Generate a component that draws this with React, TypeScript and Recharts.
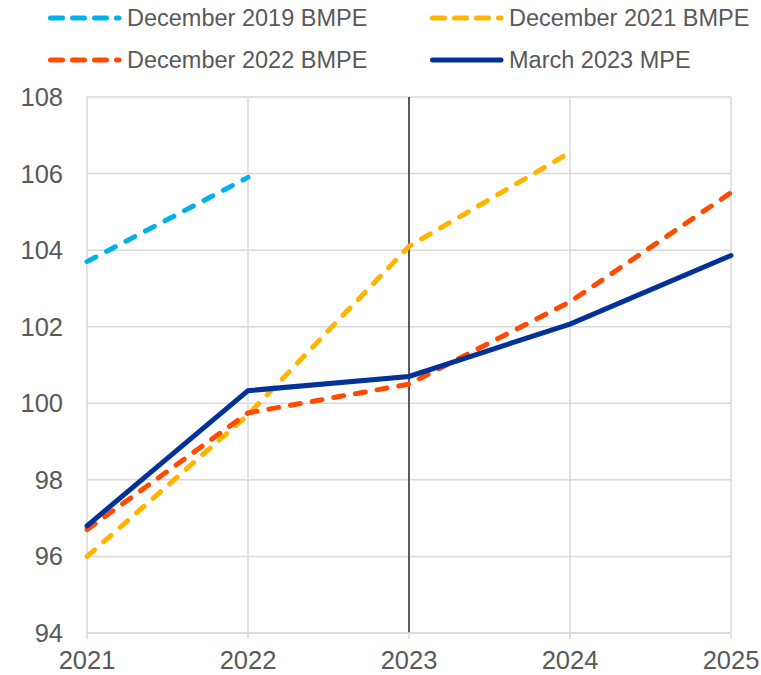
import { LineChart, Line, XAxis, YAxis, CartesianGrid, ReferenceLine } from 'recharts'

const years = ['2021', '2022', '2023', '2024', '2025']
const dec2019 = [103.7, 105.9, null, null, null]
const dec2021 = [96.0, 99.7, 104.1, 106.55, null]
const dec2022 = [96.7, 99.75, 100.5, 102.65, 105.5]
const mar2023 = [96.8, 100.33, 100.7, 102.07, 103.86]
const yTicks = [94, 96, 98, 100, 102, 104, 106, 108]

const chartData = years.map((year, i) => ({
  year,
  dec2019: dec2019[i],
  dec2021: dec2021[i],
  dec2022: dec2022[i],
  mar2023: mar2023[i],
}))

const FONT = '"Liberation Sans", Arial, sans-serif'
const TEXT = '#595959'
const DASH = '10 12'

const legendItems = [
  { label: 'December 2019 BMPE', color: '#00B1EA', dashed: true, x: 46, y: 18 },
  { label: 'December 2021 BMPE', color: '#FFB400', dashed: true, x: 428, y: 18 },
  { label: 'December 2022 BMPE', color: '#FF4B00', dashed: true, x: 46, y: 60 },
  { label: 'March 2023 MPE', color: '#003299', dashed: false, x: 428, y: 60 },
]

const ChartLegend = () => (
  <>
    {legendItems.map((item) => (
      <div
        key={item.label}
        style={{
          position: 'absolute',
          left: item.x,
          top: item.y - 15,
          height: 30,
          display: 'flex',
          alignItems: 'center',
          fontFamily: FONT,
          fontSize: 23.5,
          color: TEXT,
          whiteSpace: 'nowrap',
        }}
      >
        <svg width={80} height={10} style={{ marginRight: 1 }}>
          <line
            x1={4.5}
            y1={5}
            x2={73}
            y2={5}
            stroke={item.color}
            strokeWidth={5}
            strokeLinecap="round"
            strokeDasharray={item.dashed ? '12 10' : undefined}
          />
        </svg>
        {item.label}
      </div>
    ))}
  </>
)

export default function App() {
  return (
    <div style={{ position: 'absolute', left: 0, top: 0, width: 761, height: 675, background: '#fff' }}>
      <ChartLegend />
      <LineChart
        width={761}
        height={675}
        data={chartData}
        margin={{ top: 97, right: 30, left: 0, bottom: 0 }}
      >
        <CartesianGrid stroke="#D9D9D9" strokeWidth={1.5} />
        <XAxis
          dataKey="year"
          height={42}
          tick={{ fontSize: 25.5, fill: TEXT, fontFamily: FONT }}
          tickLine={{ stroke: '#D9D9D9', strokeWidth: 1.5 }}
          axisLine={{ stroke: '#D9D9D9', strokeWidth: 1.5 }}
          tickSize={6}
          tickMargin={12}
          interval={0}
        />
        <YAxis
          type="number"
          domain={[94, 108]}
          ticks={yTicks}
          width={87}
          tick={{ fontSize: 25.5, fill: TEXT, fontFamily: FONT }}
          tickLine={false}
          axisLine={false}
          tickMargin={18}
          interval={0}
        />
        <ReferenceLine x="2023" stroke="#000" strokeWidth={1.2} />
        <Line dataKey="dec2019" stroke="#00B1EA" strokeWidth={5} strokeDasharray={DASH} strokeLinecap="round" dot={false} isAnimationActive={false} />
        <Line dataKey="dec2021" stroke="#FFB400" strokeWidth={5} strokeDasharray={DASH} strokeLinecap="round" dot={false} isAnimationActive={false} />
        <Line dataKey="dec2022" stroke="#FF4B00" strokeWidth={5} strokeDasharray={DASH} strokeLinecap="round" dot={false} isAnimationActive={false} />
        <Line dataKey="mar2023" stroke="#003299" strokeWidth={5} strokeLinecap="round" dot={false} isAnimationActive={false} />
      </LineChart>
    </div>
  )
}
